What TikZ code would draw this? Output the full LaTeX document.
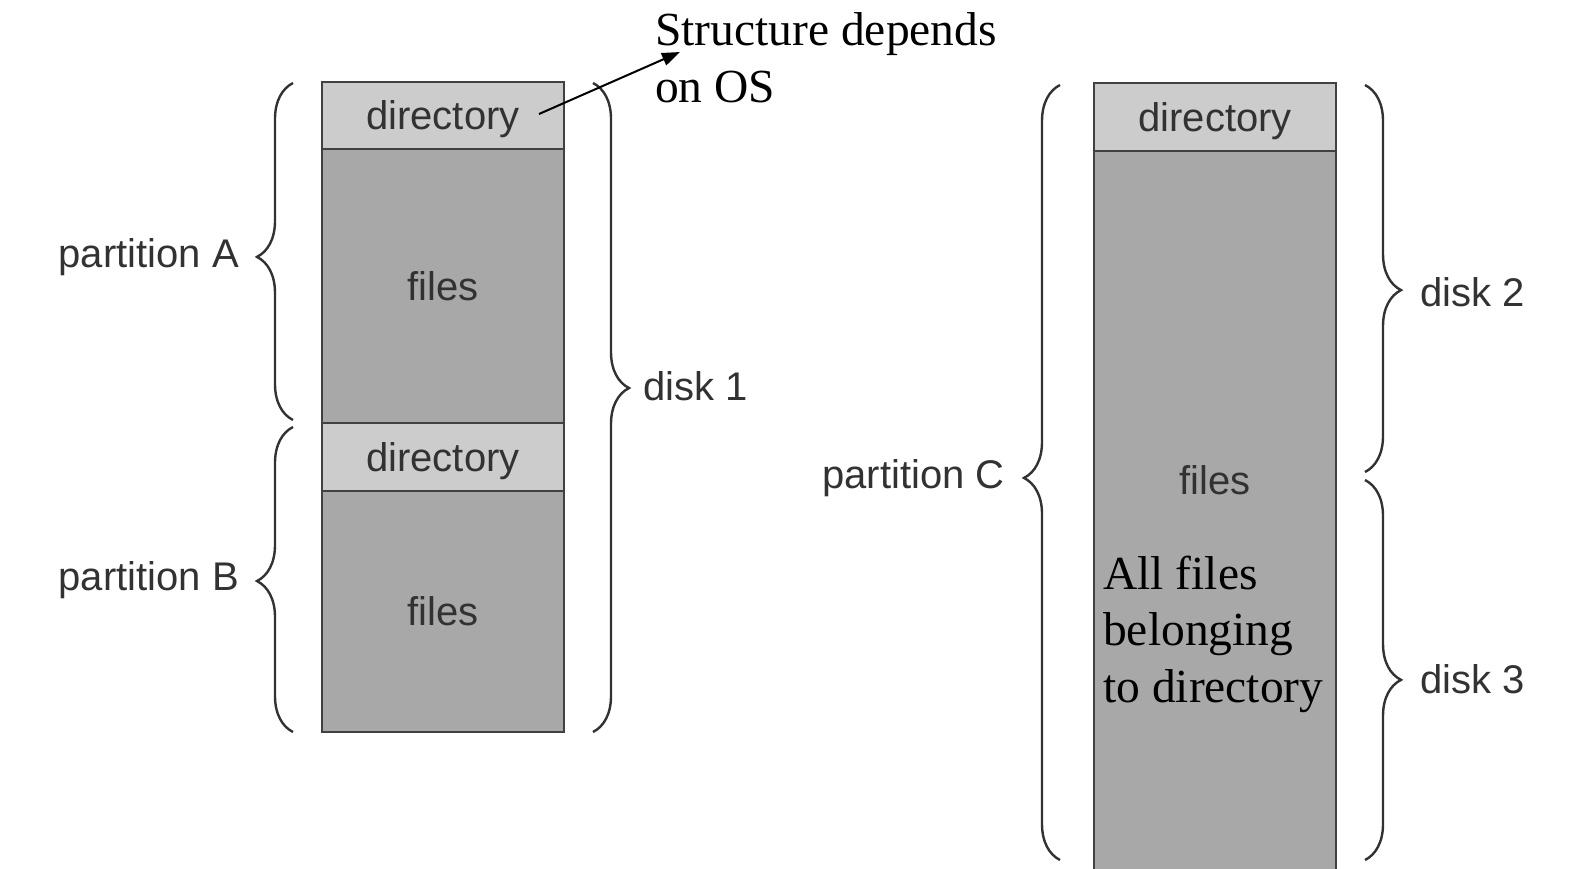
\documentclass[tikz,border=0pt]{standalone}
\usepackage{fontspec}
\setmainfont{Liberation Sans}
\newfontfamily\notefont{Liberation Serif}
\usetikzlibrary{decorations.pathreplacing,arrows.meta}

\definecolor{dirfill}{RGB}{204,204,204}
\definecolor{filefill}{RGB}{168,168,168}
\definecolor{inkgray}{RGB}{50,50,50}
\definecolor{edgegray}{RGB}{65,65,65}

\tikzset{
  block/.style={draw=edgegray, line width=2.6pt, anchor=north west,
    minimum width=242pt, inner sep=0pt, outer sep=0pt, text=inkgray,
    font=\fontsize{40}{48}\selectfont},
  dirblock/.style={block, fill=dirfill, text depth=0pt},
  fileblock/.style={block, fill=filefill},
  lbl/.style={text=inkgray, font=\fontsize{40}{48}\selectfont, inner sep=0pt},
  note/.style={text=black, font=\notefont\fontsize{47.5}{56.5}\selectfont,
    inner sep=0pt, align=left},
  bracepath/.style={draw=inkgray, line width=2.4pt, decorate,
    decoration={brace, amplitude=36pt, aspect=#1}},
  pointer/.style={draw=black, line width=2pt,
    -{Triangle[length=18pt,width=13pt]}},
}

\begin{document}
\begin{tikzpicture}[x=1pt,y=-1pt]
\useasboundingbox (0,0) rectangle (1579,868);

% ---- two partitions on one disk ----
\node[dirblock,  minimum height=67pt]  (dirA)   at (322,82)  {directory};
\node[fileblock, minimum height=274pt] (filesA) at (322,149) {files};
\node[dirblock,  minimum height=68pt]  (dirB)   at (322,423) {directory};
\node[fileblock, minimum height=241pt] (filesB) at (322,491) {files};

\coordinate (pAbot) at (293,420);
\coordinate (pAtop) at (293,83);
\coordinate (pBbot) at (293,732);
\coordinate (pBtop) at (293,427);
\coordinate (d1top) at (593,83);
\coordinate (d1bot) at (593,732);
\draw[bracepath=0.484] (pAbot) -- (pAtop);
\draw[bracepath=0.495] (pBbot) -- (pBtop);
\draw[bracepath=0.47]  (d1top) -- (d1bot);

\node[lbl, anchor=east] (lblA)  at (239,257) {partition A};
\node[lbl, anchor=east] (lblB)  at (239,580) {partition B};
\node[lbl, anchor=west] (lblD1) at (643,386) {disk 1};

% ---- one partition spanning two disks ----
\node[dirblock,  minimum height=68pt]  (dirC)   at (1094,83)  {directory};
\node[fileblock, minimum height=730pt] (filesC) at (1094,151) {};
\node[lbl] (filesClbl) at (1215,480) {files};

\coordinate (pCbot) at (1060,860);
\coordinate (pCtop) at (1060,85);
\coordinate (d2top) at (1365,85);
\coordinate (d2bot) at (1365,472);
\coordinate (d3top) at (1365,480);
\coordinate (d3bot) at (1365,860);
\draw[bracepath=0.493] (pCbot) -- (pCtop);
\draw[bracepath=0.53]  (d2top) -- (d2bot);
\draw[bracepath=0.526] (d3top) -- (d3bot);

\node[lbl, anchor=east] (lblC)  at (1005,478) {partition C};
\node[lbl, anchor=west] (lblD2) at (1420,292) {disk 2};
\node[lbl, anchor=west] (lblD3) at (1420,679) {disk 3};

% ---- annotations (base anchor sits on the last line) ----
\node[note, anchor=base west] (osnote)  at (655,102) {Structure depends\\on OS};
\node[note, anchor=base west] (allnote) at (1103,702) {All files\\belonging\\to directory};

\coordinate (dirAptr) at (539,114);
\coordinate (osptr)   at (680,52);
\draw[pointer] (dirAptr) -- (osptr);
\end{tikzpicture}
\end{document}
